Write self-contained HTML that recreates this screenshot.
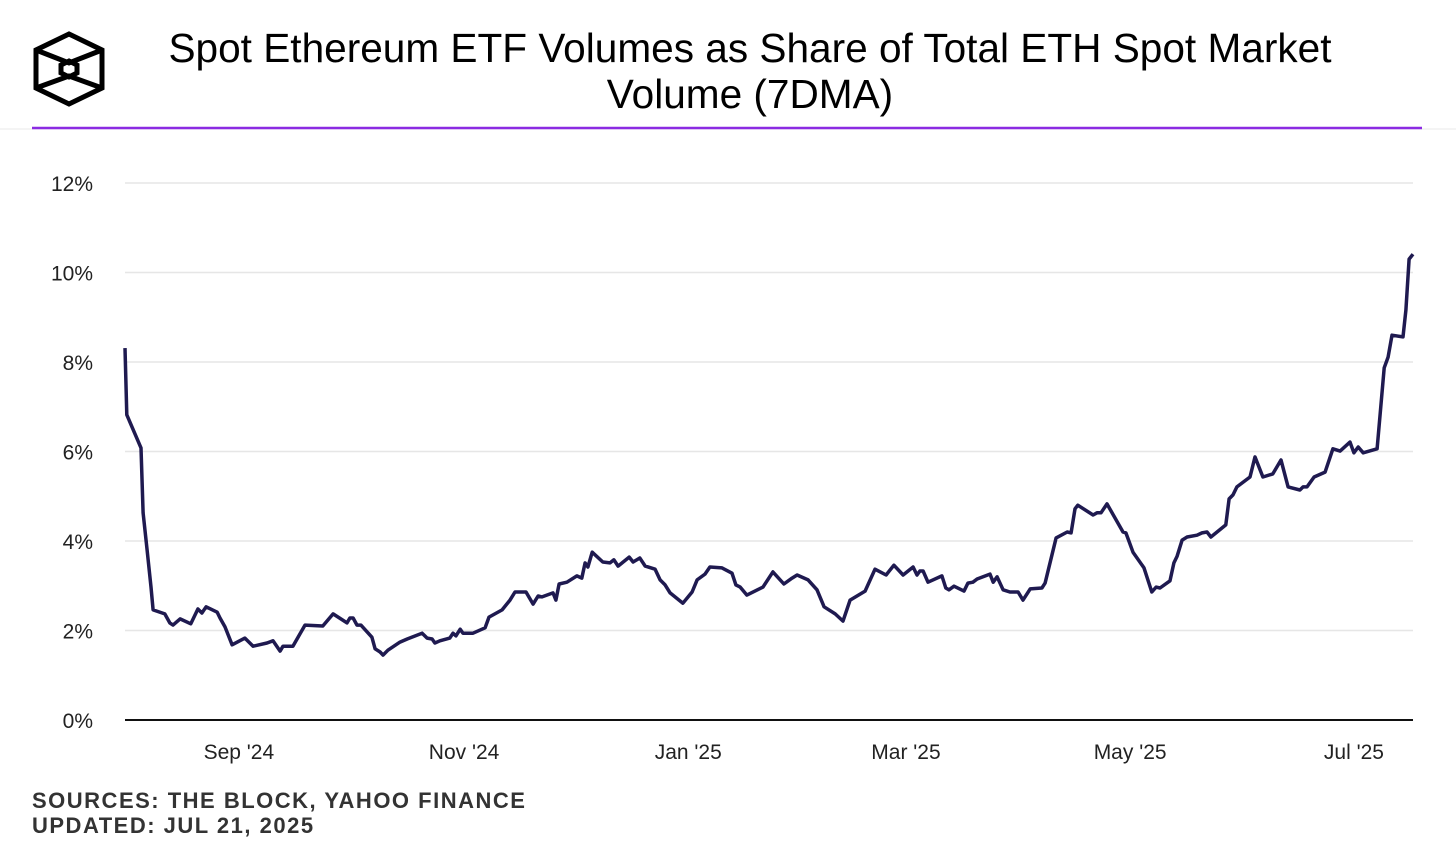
<!DOCTYPE html>
<html><head><meta charset="utf-8"><style>
body{margin:0;background:#fff;width:1456px;height:849px;overflow:hidden;font-family:"Liberation Sans",sans-serif;}
</style></head><body>
<svg id="chart" width="1456" height="849" xmlns="http://www.w3.org/2000/svg">
<g fill="none" stroke="#000" stroke-width="5" stroke-linejoin="miter">
<polygon points="69,34 102,50 102,88 69,104 36,88 36,50"/>
<polyline points="36,50 69,63 102,50"/>
<polyline points="36,88 69,76 102,88"/>
<polygon points="69,61 77,65 77,73 69,77 61,73 61,65"/>
</g>
<text x="750" y="62" text-anchor="middle" font-size="40.6" fill="#000">Spot Ethereum ETF Volumes as Share of Total ETH Spot Market</text>
<text x="750" y="108" text-anchor="middle" font-size="40.6" fill="#000">Volume (7DMA)</text>
<line x1="0" y1="129" x2="1456" y2="129" stroke="#e8e8e8" stroke-width="1"/>
<line x1="32" y1="128" x2="1422" y2="128" stroke="#8b2be2" stroke-width="2.5"/>
<g id="grid"></g><g id="yt"></g><g id="xt"></g><g id="series"></g>
<line x1="125" y1="720" x2="1413" y2="720" stroke="#111" stroke-width="2"/>
<text x="32" y="808" font-size="22" font-weight="bold" fill="#333" letter-spacing="1.5">SOURCES: THE BLOCK, YAHOO FINANCE</text>
<text x="32" y="833" font-size="22" font-weight="bold" fill="#333" letter-spacing="1.5">UPDATED: JUL 21, 2025</text>
</svg>
<script>
const days=[0,0.5,4.5,5.1,6.2,7.3,7.9,11.2,12.6,13.5,15.5,18.5,20.5,21.6,22.8,25.9,26.7,28.1,30.1,33.7,36,39.9,41.6,43.6,44.4,47.2,50.6,55.6,58.5,62.4,63.2,64.1,65.2,66.3,69.4,70.3,71.7,72.5,73.9,77.3,79.3,83.5,84.9,86.3,87.1,88.5,91.3,92.2,93,94.2,95,97.8,101.2,102.3,106,108.2,109.6,112.7,114.7,116.1,117.2,120.3,121.1,122,124.2,127,128.4,129.3,130.1,131.3,134.3,136.3,137.4,138.6,141.7,142.8,144.7,146.2,149,150.4,151.8,153.2,156.8,159.4,160.8,163,164.4,167.8,170.6,171.7,172.9,174.8,179.3,182.1,185.2,187.5,188.9,192,194.5,196.5,199.6,201.8,203.8,208,210.8,213.9,216.1,218.7,221.5,222.6,223.4,224.3,225.7,229.6,230.7,231.6,233,235.8,236.9,238.3,239.5,243.1,244,245.1,246.8,248.7,251,252.4,254.4,257.7,258.6,261.7,264.8,265.9,267,267.8,272.1,273.2,274.3,276,280.5,281.3,283.3,286.4,288.6,289.8,290.9,293.7,294.8,295.7,297.1,298.5,301.3,302.7,304.1,305.2,309.4,310.3,311.4,312.5,316.2,317.6,319.8,322.6,324.9,326.9,330.2,331.1,332.2,334.2,337.3,339.5,341.5,344.3,345.4,346.6,348,351.9,353.9,355,356.1,359.2,360,360.9,362];
const shares=[8.31,6.82,6.08,4.63,3.8,2.97,2.46,2.37,2.17,2.12,2.26,2.15,2.48,2.39,2.53,2.41,2.28,2.08,1.68,1.83,1.65,1.72,1.77,1.54,1.65,1.65,2.12,2.1,2.37,2.17,2.28,2.28,2.12,2.12,1.85,1.59,1.52,1.45,1.56,1.74,1.81,1.94,1.83,1.81,1.72,1.77,1.83,1.94,1.88,2.03,1.94,1.94,2.06,2.3,2.46,2.68,2.86,2.86,2.59,2.77,2.75,2.84,2.68,3.04,3.08,3.22,3.17,3.51,3.42,3.75,3.53,3.51,3.58,3.44,3.64,3.53,3.62,3.44,3.37,3.13,3.02,2.84,2.61,2.86,3.13,3.26,3.42,3.4,3.28,3.02,2.97,2.79,2.97,3.31,3.04,3.17,3.24,3.13,2.91,2.53,2.37,2.21,2.68,2.88,3.37,3.24,3.46,3.24,3.42,3.24,3.33,3.33,3.08,3.22,2.95,2.91,2.99,2.88,3.06,3.08,3.15,3.26,3.08,3.2,2.91,2.86,2.86,2.68,2.93,2.95,3.06,4.07,4.2,4.18,4.72,4.8,4.58,4.63,4.63,4.83,4.2,4.18,3.75,3.4,2.86,2.97,2.95,3.11,3.51,3.66,4.02,4.09,4.13,4.18,4.2,4.09,4.36,4.94,5.03,5.21,5.43,5.88,5.43,5.5,5.81,5.21,5.14,5.21,5.21,5.43,5.54,6.06,6.01,6.21,5.97,6.1,5.97,6.06,7.87,8.11,8.6,8.56,9.16,10.3,10.41];
const yTicks=[0,2,4,6,8,10,12];
const xTickLabels=["Sep '24","Nov '24","Jan '25","Mar '25","May '25","Jul '25"];
const xTickDays=[32,95.3,158.3,219.5,282.5,345.4];
const X0=125,X1=1413,D1=362,Y0=720,Y12=183;
const xs=d=>X0+(X1-X0)*d/D1;
const ys=v=>Y0-(Y0-Y12)*v/12;
const NS="http://www.w3.org/2000/svg";
function mk(tag,parent,attrs){const e=document.createElementNS(NS,tag);for(const k in attrs)e.setAttribute(k,attrs[k]);parent.appendChild(e);return e;}
const grid=document.getElementById('grid'),yt=document.getElementById('yt'),xt=document.getElementById('xt'),ser=document.getElementById('series');
yTicks.forEach(t=>{
 if(t>0){const l=mk('line',grid,{x1:X0,x2:X1,y1:ys(t),y2:ys(t),stroke:'#e6e6e6','stroke-width':1.5});
 
 }
 const tx=mk('text',yt,{x:93,y:ys(t)+8,'text-anchor':'end','font-size':21,fill:'#222'});
 
 
 tx.textContent=t+'%';
});
xTickLabels.forEach((lab,i)=>{
 const tx=mk('text',xt,{x:xs(xTickDays[i]),y:759,'text-anchor':'middle','font-size':21,fill:'#222'});
 
 
 tx.textContent=lab;
});
const p=mk('path',ser,{d:days.map((d,i)=>(i?'L':'M')+xs(d).toFixed(1)+','+ys(shares[i]).toFixed(1)).join(''),fill:'none',stroke:'#1f1a50','stroke-width':3.5,'stroke-linejoin':'round'});


</script>
</body></html>
